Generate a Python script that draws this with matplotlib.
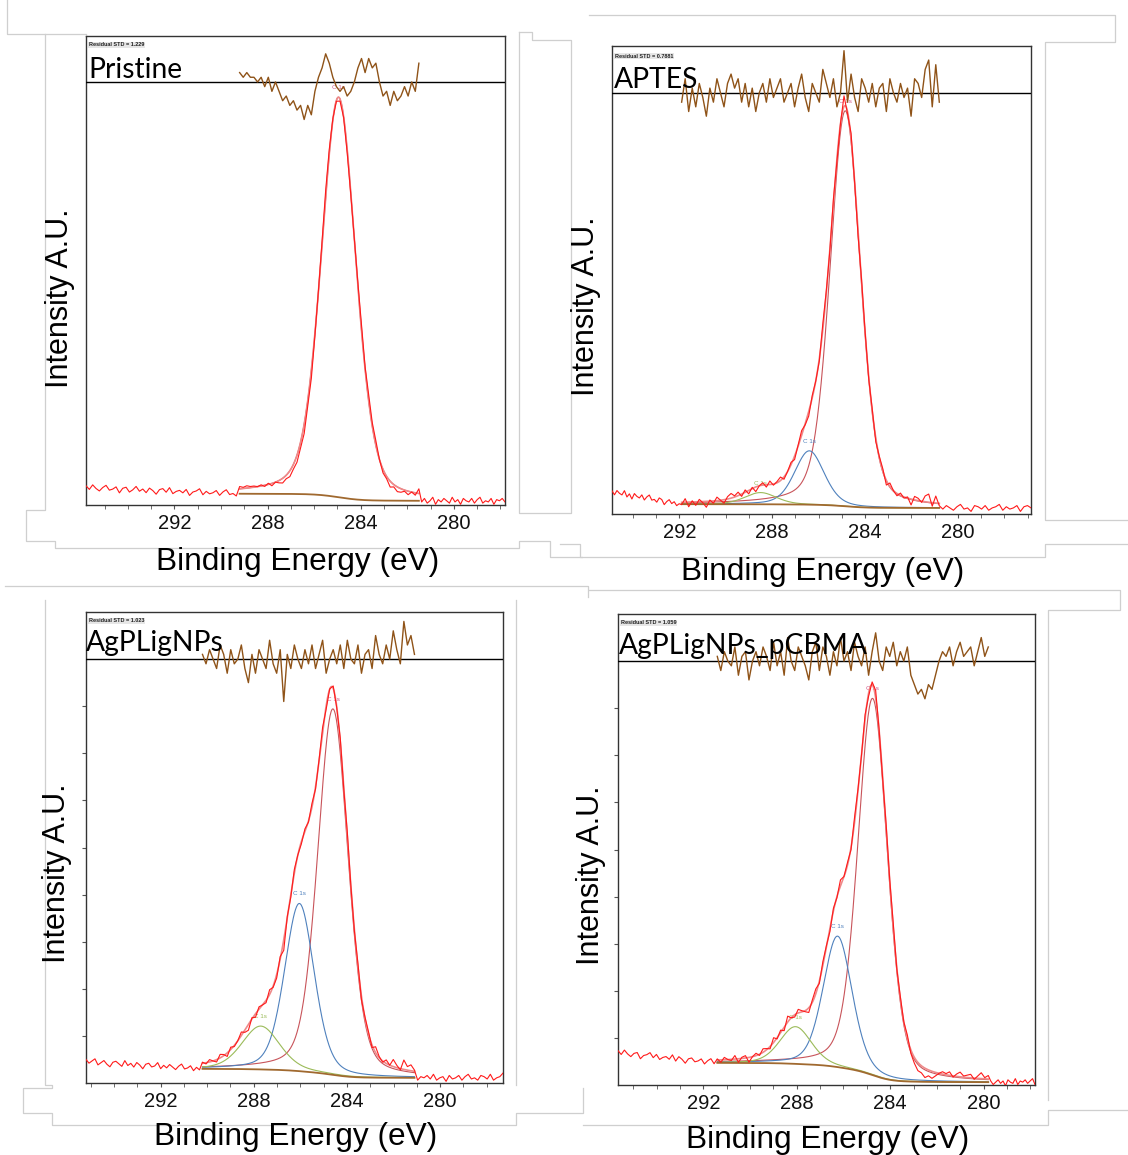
import numpy as np
import matplotlib.pyplot as plt
from matplotlib.lines import Line2D
from matplotlib.ticker import MultipleLocator

plt.rcParams['font.family'] = ['Liberation Sans', 'DejaVu Sans']

W, H = 1128, 1155

titles = ['Pristine', 'APTES', 'AgPLigNPs', 'AgPLigNPs_pCBMA']
residual_std = ['1.229', '0.7881', '1.023', '1.059']

# axis limits (high BE, low BE) in eV
x_limits = [(295.8, 277.8), (294.9, 276.85), (295.2, 277.3), (295.65, 277.8)]
# region used for the fit
fit_ranges = [(289.2, 281.5), (291.9, 280.8), (290.2, 281.1), (291.4, 279.8)]
# background level at both ends of the fit region
bg_high = [2.4, 2.1, 3.0, 4.7]
bg_low = [0.9, 1.3, 1.1, 0.6]
# raw level at the high-BE edge of the axis
edge_high = [3.6, 4.7, 4.5, 6.8]
res_levels = [90.2, 90.0, 90.0, 90.0]

# C 1s components: centre (eV), height, FWHM
peaks_pristine = [(284.95, 85.3, 1.75)]
peaks_aptes = [(284.85, 84.5, 1.55), (286.4, 11.5, 1.5), (288.5, 2.5, 1.6)]
peaks_agp = [(284.6, 77.7, 1.55), (286.04, 35.6, 1.5), (287.7, 9.2, 1.9)]
peaks_pcbma = [(284.75, 80.0, 1.5), (286.25, 27.8, 1.46), (288.05, 7.9, 1.6)]
peaks = [peaks_pristine, peaks_aptes, peaks_agp, peaks_pcbma]

comp_colors = ['#c8545a', '#4f81bd', '#9bbb59']
label_colors = ['#d05a8a', '#4f81bd', '#9bbb59']

# residuals inside the fit region (raw - envelope)
resid_pristine = [2, 1, 2, 1, 1, 0, 1, -1, 1, -2, 0, -2, -4, -3, -5, -4, -6,
                  -5, -8, -5, -7, -2, 1, 3, 6, 4, 1, -1, -2, -1, -3, -2, 0,
                  3, 5, 2, 5, 3, 4, 0, -3, -2, -5, -2, -4, -3, -1, -3, 0, -2, 4]
resid_aptes = [-2, 3, -4, 1, -3, 2, -1, -5, 1, -2, 3, 0, -3, 2, 4, 1, 3, -2, 2, -3,
               1, -4, 0, 2, -2, 3, -1, 1, 3, -2, 0, 2, -3, 1, 4, -1, -4, 2, 0, -2,
               5, 2, -1, 3, -3, 0, 9, -2, 4, -1, -4, 3, 1, -2, 2, -3, 1, 2, -4, 3,
               0, -2, 2, -1, 1, -5, 3, 2, -1, 5, 7, -3, 6, -2]
resid_agp = [1, -1, 2, 0, -2, 3, 1, -3, 2, -1, 0, 3, -2, -5, 1, -3, 2, 0, -2, 4,
             -1, -3, 2, -9, 1, -2, 3, 0, -2, 2, -1, 3, -2, 1, 4, -3, 0, 2, -1, 3,
             -2, 4, 0, -1, 3, -3, 1, 2, -2, 5, 1, -1, 3, 0, 6, 2, -1, 8, 3, 5, 1]
resid_pcbma = [1, -2, 2, 0, -1, 3, -3, 1, 2, -4, 0, 2, -1, 3, 1, -2, 4, -1, 2, -3,
               5, 0, -2, 3, 1, -1, -4, 2, 4, -2, 3, 1, -3, 2, -1, 5, 0, 2, -2, 4,
               1, -1, 3, -3, 2, 6, 0, -2, 3, 1, 4, -1, 2, 0, 3,
               -3, -5, -7, -6, -8, -5, -6, -3,
               0, 2, 1, 3, -1, 2, 4, 1, 2, 3, -1, 2, 5, 1, 3]
residuals = [resid_pristine, resid_aptes, resid_agp, resid_pcbma]

# raw noise outside the fit region (high-BE side, low-BE side)
noise_hi = [
    [2, -1, 3, 0, -2, 1, 3, -1, 0, 2, -3, 1, 2, -2, 0, 3, -1, 1, -2, 2, 0, -3, 1,
     2, -1, 3, -2, 0, 1, -1, 2, -3, 0, 1, 3, -2, 1, -1, 0, 2, -2, 1, 3, -1, 0, -2],
    [1, -2, 2, 0, -1, 3, -2, 1, -3, 2, 0, -1, 2, -2, 1, 3, -1, 0, -2, 2, 1, -3, 0,
     2, -1, 1, -2, 0],
    [2, -1, 1, 3, -2, 0, 2, -1, -3, 1, 2, 0, -2, 3, -1, 1, -2, 2, 0, -3, 1, 2, -1,
     0, 3, -2, 1, -1, 2, 0, -2, 1, 3, -1, 0, 2, -2, 1, -1],
    [2, -1, 3, 0, -2, 1, 2, -3, 0, 1, 3, -1, 2, -2, 0, 1, -1, 3, -2, 2, 0, -3, 1,
     2, -1, 0, 2, -2, 1, 3, -1],
]
noise_lo = [
    [-1, 2, -2, 0, 3, -3, 1, -1, 2, 0, -2, 3, -1, 1, -3, 2, 0, -1, 2, -2, 1, 3, -2,
     0, -1, 2, -3, 1, 0, 2, -1],
    [-1, 2, 0, -2, 1, 3, -1, 0, -3, 2, 1, -1, 2, -2, 0, 1, 3, -2, 1, -1, 0, 2, -3,
     1, 2, 0],
    [-2, 1, 0, 2, -1, 3, -2, 0, 1, -3, 2, -1, 0, 2, -2, 1, 3, -1, 0, -2, 2, 1, -1,
     3, -2, 0, 1, 4],
    [1, -2, 0, 2, -1, 1, -3, 2, 0, -1, 3, -2, 1, 0, 2, -1, 1, 3, -2],
]

# panel boxes in pixels: left, top, right, bottom
boxes = [(86, 36, 505, 505), (612, 46, 1031, 514),
         (86, 612, 503, 1083), (618, 614, 1035, 1085)]
title_pos = [(88, 78), (614, 88), (86, 651), (619, 654)]
std_pos = [(89, 45), (615, 56), (89, 621), (621, 623)]
xlabel_pos = [(298, 570), (823, 580), (296, 1145), (828, 1148)]
ylabel_pos = [(60, 298), (586, 306), (57, 873), (591, 875)]

raw_scale = 0.25
res_scale = 1.0


def gl(x, c, h, w, m=0.3):
    d = 4 * (x - c) ** 2 / w ** 2
    return h * ((1 - m) * np.exp(-np.log(2) * d) + m / (1 + d))


def model(x, pk, hi, lo):
    comps = [gl(x, c, h, w) for c, h, w in pk]
    s = np.sum(comps, axis=0)
    cum = np.cumsum(s[::-1])[::-1]
    bg = lo + (hi - lo) * cum / cum[0]
    return comps, bg


fig = plt.figure(figsize=(W / 100, H / 100), dpi=100)


def fx(px):
    return px / W


def fy(py):
    return 1 - py / H


# light grey window outlines from the screenshot
frames = [
    [(7, 0), (7, 34), (86, 34)],
    [(45, 34), (45, 510), (26, 510), (26, 541), (55, 541), (55, 548), (519, 548),
     (519, 541), (550, 541), (550, 557), (582, 557)],
    [(519, 32), (532, 32), (532, 40), (571, 40), (571, 513), (519, 513), (519, 32)],
    [(5, 586), (588, 586), (588, 597)],
    [(589, 15), (1115, 15), (1115, 42), (1045, 42), (1045, 520), (1128, 520)],
    [(560, 544), (580, 544), (580, 557), (1045, 557), (1045, 544), (1128, 544)],
    [(589, 590), (1120, 590), (1120, 610), (1048, 610), (1048, 1100)],
    [(45, 600), (45, 1085), (52, 1085), (52, 1088), (23, 1088), (23, 1113),
     (52, 1113), (52, 1125), (516, 1125), (516, 1113), (583, 1113), (583, 1088)],
    [(516, 600), (516, 1085)],
    [(583, 1125), (1048, 1125), (1048, 1110), (1128, 1110)],
]
for pts in frames:
    xs = [fx(p[0]) for p in pts]
    ys = [fy(p[1]) for p in pts]
    fig.add_artist(Line2D(xs, ys, color='#cfcfcf', lw=0.9))

for i in range(4):
    l, t, r, b = boxes[i]
    ax = fig.add_axes([fx(l), fy(b), (r - l) / W, (b - t) / H])
    xl, xr = x_limits[i]
    f_hi, f_lo = fit_ranges[i]

    # fit region
    xf = np.linspace(f_hi, f_lo, 400)
    comps, bg = model(xf, peaks[i], bg_high[i], bg_low[i])
    env = bg + np.sum(comps, axis=0)

    res = np.array(residuals[i])
    x_fit = np.linspace(f_hi, f_lo, len(res))
    c2, bg2 = model(x_fit, peaks[i], bg_high[i], bg_low[i])
    raw_fit = bg2 + np.sum(c2, axis=0) + raw_scale * res

    nh = np.array(noise_hi[i])
    x_h = np.linspace(xl, f_hi, len(nh) + 1)[:-1]
    raw_h = bg_high[i] + (edge_high[i] - bg_high[i]) * (x_h - f_hi) / (xl - f_hi) + raw_scale * nh
    nl = np.array(noise_lo[i])
    x_l = np.linspace(f_lo, xr, len(nl) + 1)[1:]
    raw_l = bg_low[i] + raw_scale * nl

    x_raw = np.concatenate([x_h, x_fit, x_l])
    raw = np.concatenate([raw_h, raw_fit, raw_l])

    for k, cmp in enumerate(comps):
        ax.plot(xf, bg + cmp, color=comp_colors[k], lw=0.8, zorder=2)
        c, h, w = peaks[i][k]
        ax.text(c, h + np.interp(c, xf[::-1], bg[::-1]) + 1.5, 'C 1s',
                fontsize=4.5, color=label_colors[k], ha='center', va='bottom',
                zorder=3)
    ax.plot(xf, bg, color='#a0692f', lw=1.3, zorder=2)
    ax.plot(xf, env, color='#ee8a8a', lw=1.2, zorder=3)
    ax.plot(x_raw, raw, color='#ff1a1a', lw=0.8, zorder=4)

    ax.axhline(res_levels[i], color='black', lw=1.0, zorder=5)
    ax.plot(x_fit, res_levels[i] + res_scale * res, color='#8f5318', lw=1.0,
            zorder=6, clip_on=False)

    ax.set_xlim(xl, xr)
    ax.set_ylim(0, 100)
    ax.set_xticks([292, 288, 284, 280])
    ax.xaxis.set_minor_locator(MultipleLocator(1))
    ax.tick_params(axis='x', which='both', direction='out', length=3,
                   color='#555555', labelsize=14.5, pad=3.8, labelcolor='#111111')
    if i >= 2:
        ax.set_yticks(np.arange(10, 90, 10))
        ax.tick_params(axis='y', direction='out', length=3, color='#555555',
                       labelleft=False)
    else:
        ax.set_yticks([])
    for sp in ax.spines.values():
        sp.set_color('#333333')
        sp.set_linewidth(1.0)

    tx, ty = title_pos[i]
    fig.text(fx(tx), fy(ty), titles[i], family=['Lato', 'DejaVu Sans'],
             fontsize=20.3, va='baseline', ha='left')
    sx, sy = std_pos[i]
    fig.text(fx(sx), fy(sy), 'Residual STD = ' + residual_std[i], fontsize=4,
             va='center', ha='left', fontweight='bold', color='#222222',
             bbox=dict(facecolor='#e6e6e6', edgecolor='none', pad=0.6))
    bx, by = xlabel_pos[i]
    fig.text(fx(bx), fy(by), 'Binding Energy (eV)', fontsize=22.8,
             ha='center', va='baseline')
    lx, ly = ylabel_pos[i]
    fig.text(fx(lx), fy(ly), 'Intensity A.U.', fontsize=22, rotation=90,
             ha='center', va='center')

fig.savefig('out.png', dpi=100)
